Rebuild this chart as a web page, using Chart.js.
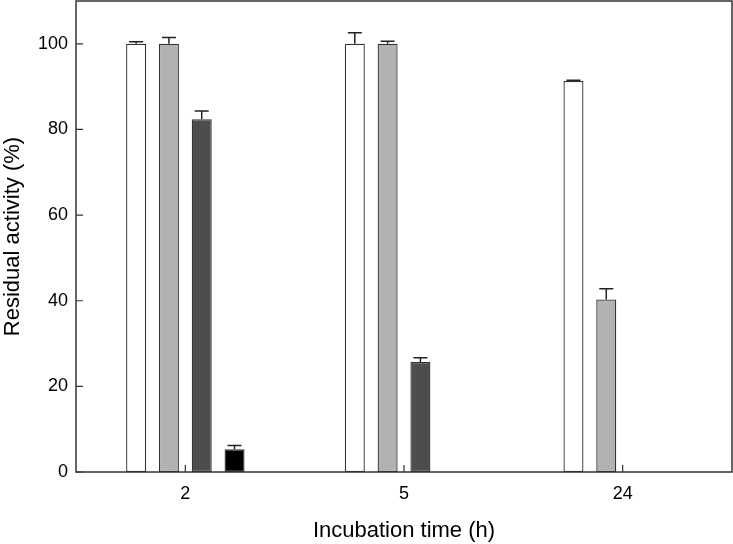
<!DOCTYPE html>
<html>
<head>
<meta charset="utf-8">
<script src="https://cdn.jsdelivr.net/npm/chart.js@4.4.1/dist/chart.umd.min.js"></script>
<style>
  html, body { margin: 0; padding: 0; background: #fff; }
  #wrap { width: 733px; height: 544px; }
</style>
</head>
<body>
<div id="wrap"><canvas id="chart"></canvas></div>
<script>
// Incubation times (categories)
const categories = ['2', '5', '24'];

// Residual activity (%) per series
const seriesA = [100, 100, 91.3];
const seriesB = [100, 100, 40.3];
const seriesC = [82.4, 25.7, null];
const seriesD = [5.3, null, null];

// Upper error bar (standard deviation)
const errA = [0.5, 2.6, 0.2];
const errB = [1.5, 0.6, 2.5];
const errC = [1.9, 1.0, null];
const errD = [0.9, null, null];

const yTicks = [0, 20, 40, 60, 80, 100];

const axisColor = '#333';
const fontFamily = 'Arial, "Liberation Sans", sans-serif';

function makeSet(data, err, color) {
  return {
    data: data,
    errors: err,
    backgroundColor: color,
    borderColor: '#333',
    borderWidth: 1.3,
    borderSkipped: false,
    categoryPercentage: 0.6,
    barPercentage: 0.61
  };
}

// Draws the upward error bars, the inward ticks and the box frame
const extrasPlugin = {
  id: 'extras',
  afterDatasetsDraw(chart) {
    const ctx = chart.ctx;
    const y = chart.scales.y;
    ctx.save();
    ctx.strokeStyle = '#222';
    ctx.lineWidth = 1.5;
    chart.data.datasets.forEach((ds, i) => {
      const meta = chart.getDatasetMeta(i);
      meta.data.forEach((bar, j) => {
        const v = ds.data[j];
        const e = ds.errors[j];
        if (v == null || e == null) return;
        const top = y.getPixelForValue(v + e);
        ctx.beginPath();
        ctx.moveTo(bar.x, bar.y);
        ctx.lineTo(bar.x, top);
        ctx.moveTo(bar.x - 7, top);
        ctx.lineTo(bar.x + 7, top);
        ctx.stroke();
      });
    });
    ctx.restore();
  },
  afterDraw(chart) {
    const ctx = chart.ctx;
    const area = chart.chartArea;
    const x = chart.scales.x;
    const y = chart.scales.y;
    ctx.save();
    ctx.strokeStyle = axisColor;
    ctx.lineWidth = 1.5;
    ctx.strokeRect(area.left, area.top, area.right - area.left, area.bottom - area.top);
    ctx.lineWidth = 1.2;
    ctx.beginPath();
    y.ticks.forEach((t, i) => {
      const py = y.getPixelForTick(i);
      ctx.moveTo(area.left, py);
      ctx.lineTo(area.left + 7, py);
    });
    x.ticks.forEach((t, i) => {
      const px = x.getPixelForTick(i);
      ctx.moveTo(px, area.bottom);
      ctx.lineTo(px, area.bottom - 7);
    });
    ctx.stroke();
    ctx.restore();
  }
};

new Chart(document.getElementById('chart'), {
  type: 'bar',
  data: {
    labels: categories,
    datasets: [
      makeSet(seriesA, errA, '#ffffff'),
      makeSet(seriesB, errB, '#b2b2b2'),
      makeSet(seriesC, errC, '#4d4d4d'),
      makeSet(seriesD, errD, '#000000')
    ]
  },
  options: {
    responsive: true,
    maintainAspectRatio: false,
    animation: false,
    layout: { padding: { top: 1, right: 1, left: 0, bottom: 0 } },
    plugins: {
      legend: { display: false },
      tooltip: { enabled: false }
    },
    scales: {
      x: {
        grid: { display: false, drawTicks: false },
        border: { display: false },
        ticks: {
          color: '#000',
          padding: 11,
          font: { family: fontFamily, size: 18 }
        },
        title: {
          display: true,
          text: 'Incubation time (h)',
          color: '#000',
          padding: { top: 0, bottom: 0 },
          font: { family: fontFamily, size: 22 }
        },
        afterFit(scale) {
          scale.height = 72;
          scale.paddingLeft = 0;
          scale.paddingRight = 0;
        }
      },
      y: {
        min: 0,
        max: 110,
        grid: { display: false, drawTicks: false },
        border: { display: false },
        afterBuildTicks(scale) {
          scale.ticks = yTicks.map(v => ({ value: v }));
        },
        ticks: {
          color: '#000',
          padding: 8,
          font: { family: fontFamily, size: 18 }
        },
        title: {
          display: true,
          text: 'Residual activity (%)',
          color: '#000',
          padding: { top: 0, bottom: 0 },
          font: { family: fontFamily, size: 22 }
        },
        afterFit(scale) {
          scale.width = 76;
          scale.paddingTop = 0;
          scale.paddingBottom = 0;
        }
      }
    }
  },
  plugins: [extrasPlugin]
});
</script>
</body>
</html>
